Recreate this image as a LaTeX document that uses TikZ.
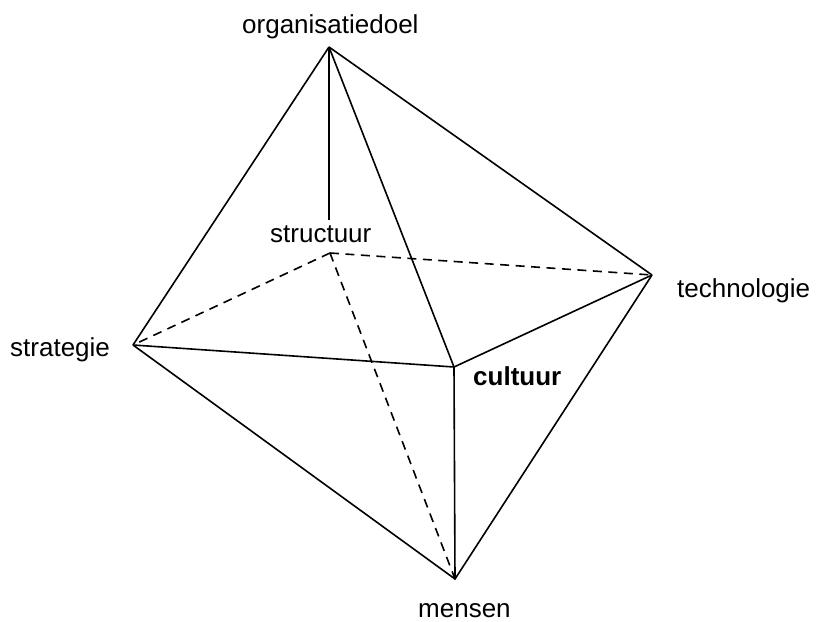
\documentclass[tikz,border=0pt]{standalone}
\usepackage{fontspec}
\setmainfont{Liberation Sans}
\begin{document}
\begin{tikzpicture}[x=1pt,y=-1pt,
  edge/.style={line width=1.6pt,line join=miter},
  hidden/.style={edge,dash pattern=on 9pt off 6.5pt},
  lbl/.style={anchor=base west,inner sep=0pt,font=\fontsize{26}{30}\selectfont}]
  \useasboundingbox (0,0) rectangle (816,621);
  % vertices of the octahedron
  \coordinate (top) at (329,47);
  \coordinate (str) at (330,253);
  \coordinate (tec) at (652,275);
  \coordinate (stg) at (133,345);
  \coordinate (cul) at (454,367);
  \coordinate (men) at (455,579);
  \coordinate (strend) at (329,220);
  % labels
  \node[lbl] (lorg) at (242,33) {organisatiedoel};
  \node[lbl] (lstr) at (270,242) {structuur};
  \node[lbl] (lstg) at (10,356) {strategie};
  \node[lbl,font=\fontsize{26}{30}\selectfont\bfseries] (lcul) at (473,385) {cultuur};
  \node[lbl] (ltec) at (677,297) {technologie};
  \node[lbl] (lmen) at (418,617) {mensen};
  % visible edges
  \draw[edge] (top) -- (stg);
  \draw[edge] (top) -- (tec);
  \draw[edge] (top) -- (cul);
  \draw[edge] (top) -- (strend);
  \draw[edge] (stg) -- (cul) -- (tec);
  \draw[edge] (cul) -- (men);
  \draw[edge] (stg) -- (men) -- (tec);
  % hidden edges
  \draw[hidden] (str) -- (stg);
  \draw[hidden] (str) -- (tec);
  \draw[hidden] (str) -- (men);
\end{tikzpicture}
\end{document}
